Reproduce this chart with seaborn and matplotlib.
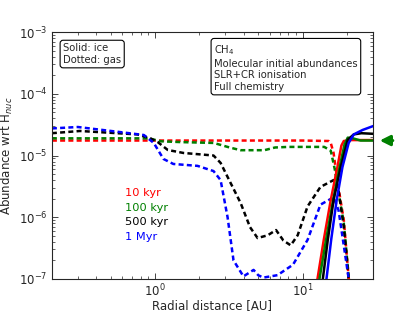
import numpy as np
import matplotlib
matplotlib.use("Agg")
import matplotlib.pyplot as plt
import seaborn as sns

# gas (dashed) abundances
gas_10kyr_r = [0.2, 1.0, 5.0, 10.0, 15.0, 15.5, 16.2, 17.3, 19.0, 20.4, 21.0]
gas_10kyr = [1.75e-5, 1.75e-5, 1.75e-5, 1.75e-5, 1.72e-5, 1.6e-5, 1.1e-5, 3.5e-6, 9e-7, 1.2e-7, 6e-8]

gas_100kyr_r = [0.2, 0.9, 1.1, 1.5, 2.5, 3.2, 3.8, 5.5, 6.5, 8.0, 14.0, 15.5, 16.5, 17.5, 19.0, 20.5, 21.0]
gas_100kyr = [1.9e-5, 1.9e-5, 1.7e-5, 1.65e-5, 1.6e-5, 1.35e-5, 1.22e-5, 1.22e-5, 1.35e-5, 1.38e-5,
              1.38e-5, 1.2e-5, 6e-6, 2.5e-6, 8e-7, 1.1e-7, 6e-8]

gas_500kyr_r = [0.2, 0.31, 0.76, 0.93, 1.04, 1.22, 1.56, 2.27, 2.49, 2.78, 3.1, 3.8, 4.4, 4.95,
                5.8, 6.6, 7.4, 8.3, 9.25, 10.8, 13.2, 16.2, 17.3, 19.0, 20.4, 21.0]
gas_500kyr = [2.3e-5, 2.5e-5, 2.2e-5, 1.9e-5, 1.66e-5, 1.23e-5, 1.1e-5, 1.02e-5, 1.0e-5, 7.6e-6,
              4.5e-6, 1.7e-6, 6.9e-7, 4.6e-7, 5.1e-7, 6.2e-7, 4.2e-7, 3.5e-7, 5.1e-7, 1.5e-6,
              3.1e-6, 4.0e-6, 3.3e-6, 7e-7, 1.1e-7, 6e-8]

gas_1myr_r = [0.2, 0.30, 0.58, 0.84, 0.98, 1.14, 1.33, 1.94, 2.49, 2.78, 3.1, 3.4, 3.97, 4.65,
              5.0, 5.4, 6.75, 8.6, 10.8, 13.2, 16.2, 17.5, 20.4, 21.0]
gas_1myr = [2.75e-5, 2.9e-5, 2.4e-5, 2.15e-5, 1.6e-5, 8.8e-6, 7.3e-6, 6.8e-6, 5.6e-6, 4.0e-6,
            1.0e-6, 2.0e-7, 1.1e-7, 1.4e-7, 1.15e-7, 1.05e-7, 1.15e-7, 1.7e-7, 4.3e-7, 1.6e-6,
            2.1e-6, 1.3e-6, 1.1e-7, 6e-8]

# ice (solid) abundances
ice_10kyr_r = [12.0, 12.6, 13.9, 15.5, 17.2, 18.3, 19.0, 21.0, 30.0]
ice_10kyr = [5e-8, 1e-7, 4.3e-7, 1.9e-6, 6.5e-6, 1.45e-5, 1.72e-5, 1.78e-5, 1.78e-5]

ice_100kyr_r = [12.4, 13.0, 14.4, 16.1, 17.8, 19.2, 20.2, 21.9, 24.7, 30.0]
ice_100kyr = [5e-8, 1e-7, 4.3e-7, 1.9e-6, 6.5e-6, 1.5e-5, 1.95e-5, 1.9e-5, 1.75e-5, 1.75e-5]

ice_500kyr_r = [13.2, 13.7, 14.8, 16.2, 18.1, 20.2, 22.2, 25.0, 30.0]
ice_500kyr = [5e-8, 1e-7, 4.3e-7, 1.9e-6, 6.5e-6, 1.8e-5, 2.2e-5, 2.3e-5, 2.25e-5]

ice_1myr_r = [14.0, 14.5, 15.6, 17.0, 18.6, 20.5, 22.2, 25.5, 30.0]
ice_1myr = [5e-8, 1e-7, 4.3e-7, 1.9e-6, 6.5e-6, 1.6e-5, 2.2e-5, 2.6e-5, 3.0e-5]

labels = ["10 kyr", "100 kyr", "500 kyr", "1 Myr"]
colors = ["red", "green", "black", "blue"]
initial_abundance = 1.75e-5

sns.set_style("ticks")
plt.rcParams["font.family"] = ["DejaVu Sans"]

fig = plt.figure(figsize=(4.15, 3.12), dpi=100)
ax = fig.add_axes([0.125, 0.106, 0.774, 0.791])

gas = [(gas_10kyr_r, gas_10kyr), (gas_100kyr_r, gas_100kyr),
       (gas_500kyr_r, gas_500kyr), (gas_1myr_r, gas_1myr)]
ice = [(ice_10kyr_r, ice_10kyr), (ice_100kyr_r, ice_100kyr),
       (ice_500kyr_r, ice_500kyr), (ice_1myr_r, ice_1myr)]

for (r, a), c in zip(gas, colors):
    sns.lineplot(x=r, y=a, ax=ax, color=c, lw=1.8, linestyle=(0, (2.0, 1.3)))
for (r, a), c in zip(ice, colors):
    sns.lineplot(x=r, y=a, ax=ax, color=c, lw=1.8)

ax.set_xscale("log")
ax.set_yscale("log")
ax.set_xlim(0.2, 30)
ax.set_ylim(1e-7, 1e-3)
ax.tick_params(which="both", direction="in", top=True, right=True, labelsize=8.5, pad=3)
ax.tick_params(which="major", length=4, width=0.6)
ax.tick_params(which="minor", length=2, width=0.5)
for s in ax.spines.values():
    s.set_linewidth(0.8)

ax.set_xlabel("Radial distance [AU]", fontsize=8.5)
ax.set_ylabel("Abundance wrt H$_{nuc}$", fontsize=8.5)
ax.xaxis.set_label_coords(0.5, -0.083)
ax.yaxis.set_label_coords(-0.115, 0.5)

box = dict(boxstyle="round,pad=0.3", facecolor="white", edgecolor="black", lw=0.8)
ax.text(0.035, 0.955, "Solid: ice\nDotted: gas", transform=ax.transAxes,
        fontsize=7.2, va="top", ha="left", bbox=box, linespacing=1.2)
ax.text(0.505, 0.955, "CH$_4$\nMolecular initial abundances\nSLR+CR ionisation\nFull chemistry",
        transform=ax.transAxes, fontsize=7.2, va="top", ha="left", bbox=box, linespacing=1.2)

for i, (lab, c) in enumerate(zip(labels, colors)):
    ax.text(0.227, 0.348 - i * 0.059, lab, color=c, fontsize=8.2,
            transform=ax.transAxes, va="center", ha="left")

ax.annotate("", xy=(1.012, initial_abundance), xytext=(1.07, initial_abundance),
            xycoords=("axes fraction", "data"), textcoords=("axes fraction", "data"),
            arrowprops=dict(arrowstyle="-|>,head_length=0.6,head_width=0.3",
                            color="green", lw=2.2), annotation_clip=False)

fig.savefig("out.png", dpi=100)
